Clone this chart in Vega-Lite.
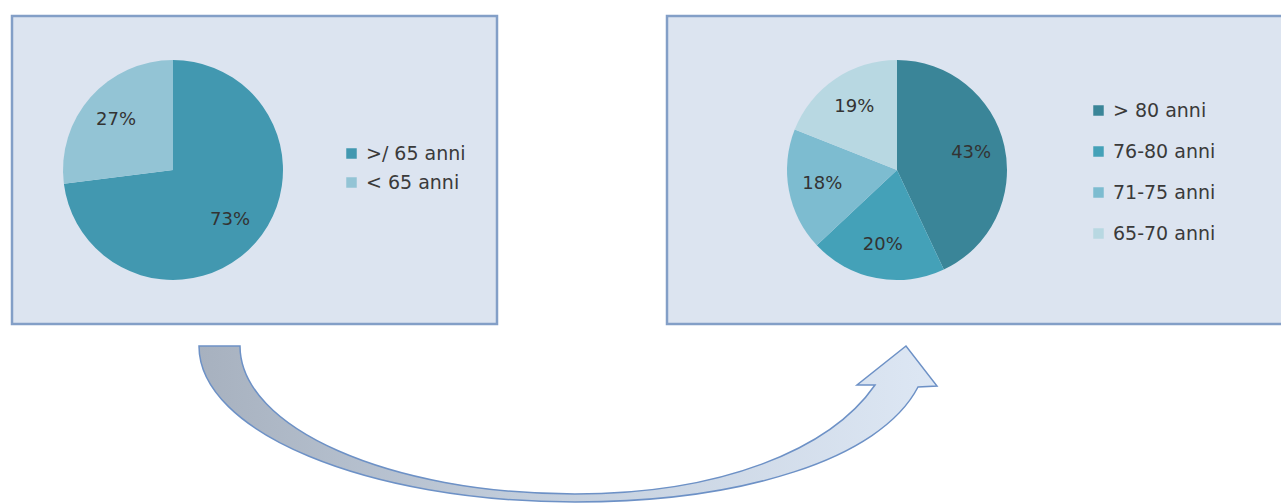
{
  "$schema": "https://vega.github.io/schema/vega-lite/v6.json",
  "padding": {"left": 10, "top": 14, "right": 0, "bottom": 0},
  "background": "white",
  "config": {
    "font": "DejaVu Sans"
  },
  "spacing": 2,
  "vconcat": [
    {
      "spacing": 166,
      "resolve": {"scale": {"color": "independent", "theta": "independent"}, "legend": {"color": "independent"}},
      "hconcat": [
        {
          "width": 485,
          "height": 308,
          "view": {"fill": "#dce4f0", "stroke": "#839fc7", "strokeWidth": 2.5},
          "data": {"values": [
            {"gruppo": ">/ 65 anni", "quota": 0.73, "ordine": 1},
            {"gruppo": "< 65 anni", "quota": 0.27, "ordine": 2}
          ]},
          "layer": [
            {
              "mark": {"type": "arc", "outerRadius": 110, "x": 161, "y": 154},
              "encoding": {
                "theta": {"field": "quota", "type": "quantitative", "stack": true},
                "order": {"field": "ordine", "type": "quantitative"},
                "color": {
                  "field": "gruppo", "type": "nominal",
                  "scale": {"domain": [">/ 65 anni", "< 65 anni"], "range": ["#4298b0", "#93c4d5"]},
                  "legend": {
                    "orient": "none", "legendX": 330, "legendY": 128, "title": null,
                    "symbolType": "square", "symbolSize": 110, "symbolStrokeWidth": 0, "symbolOpacity": 1,
                    "labelFont": "DejaVu Sans", "labelFontSize": 19, "labelColor": "#3a3a3a",
                    "labelOffset": 5, "rowPadding": 9
                  }
                }
              }
            },
            {
              "mark": {"type": "text", "radius": 76, "x": 161, "y": 154, "font": "DejaVu Sans", "fontSize": 18, "color": "#333333"},
              "encoding": {
                "theta": {"field": "quota", "type": "quantitative", "stack": true},
                "order": {"field": "ordine", "type": "quantitative"},
                "text": {"field": "quota", "type": "quantitative", "format": ".0%"}
              }
            }
          ]
        },
        {
          "width": 616,
          "height": 308,
          "view": {"fill": "#dce4f0", "stroke": "#839fc7", "strokeWidth": 2.5},
          "data": {"values": [
            {"fascia": "> 80 anni", "quota": 0.43, "ordine": 1},
            {"fascia": "76-80 anni", "quota": 0.20, "ordine": 2},
            {"fascia": "71-75 anni", "quota": 0.18, "ordine": 3},
            {"fascia": "65-70 anni", "quota": 0.19, "ordine": 4}
          ]},
          "layer": [
            {
              "mark": {"type": "arc", "outerRadius": 110, "x": 230, "y": 154},
              "encoding": {
                "theta": {"field": "quota", "type": "quantitative", "stack": true},
                "order": {"field": "ordine", "type": "quantitative"},
                "color": {
                  "field": "fascia", "type": "nominal",
                  "scale": {"domain": ["> 80 anni", "76-80 anni", "71-75 anni", "65-70 anni"], "range": ["#3a8598", "#44a1b8", "#7dbcd0", "#b8d8e2"]},
                  "legend": {
                    "orient": "none", "legendX": 422, "legendY": 85, "title": null,
                    "symbolType": "square", "symbolSize": 110, "symbolStrokeWidth": 0, "symbolOpacity": 1,
                    "labelFont": "DejaVu Sans", "labelFontSize": 19, "labelColor": "#3a3a3a",
                    "labelOffset": 5, "rowPadding": 21
                  }
                }
              }
            },
            {
              "mark": {"type": "text", "radius": 76, "x": 230, "y": 154, "font": "DejaVu Sans", "fontSize": 18, "color": "#333333"},
              "encoding": {
                "theta": {"field": "quota", "type": "quantitative", "stack": true},
                "order": {"field": "ordine", "type": "quantitative"},
                "text": {"field": "quota", "type": "quantitative", "format": ".0%"}
              }
            }
          ]
        }
      ]
    },
    {
      "width": 1116,
      "height": 175,
      "view": {"fill": null, "stroke": null},
      "data": {"values": [{"forma": "freccia"}]},
      "mark": {
        "type": "point",
        "filled": true,
        "opacity": 1,
        "size": 4,
        "shape": "M-371,-69.5 L-330,-69.5 C-330,12.5 -180,78.5 5,78.5 C150,78.5 260,34.5 305,-30.5 L287,-30.5 L336,-69.5 L367,-29.5 L348,-28.5 C310,44.5 170,86.5 5,86.5 C-203,86.5 -371,16.5 -371,-69.5 Z",
        "fill": {"gradient": "linear", "x1": 0, "y1": 0, "x2": 1, "y2": 0, "stops": [{"offset": 0, "color": "#a7b1bf"}, {"offset": 0.45, "color": "#c3cedc"}, {"offset": 1, "color": "#dde7f4"}]},
        "stroke": "#6d91c6",
        "strokeWidth": 1.5
      },
      "encoding": {}
    }
  ]
}
